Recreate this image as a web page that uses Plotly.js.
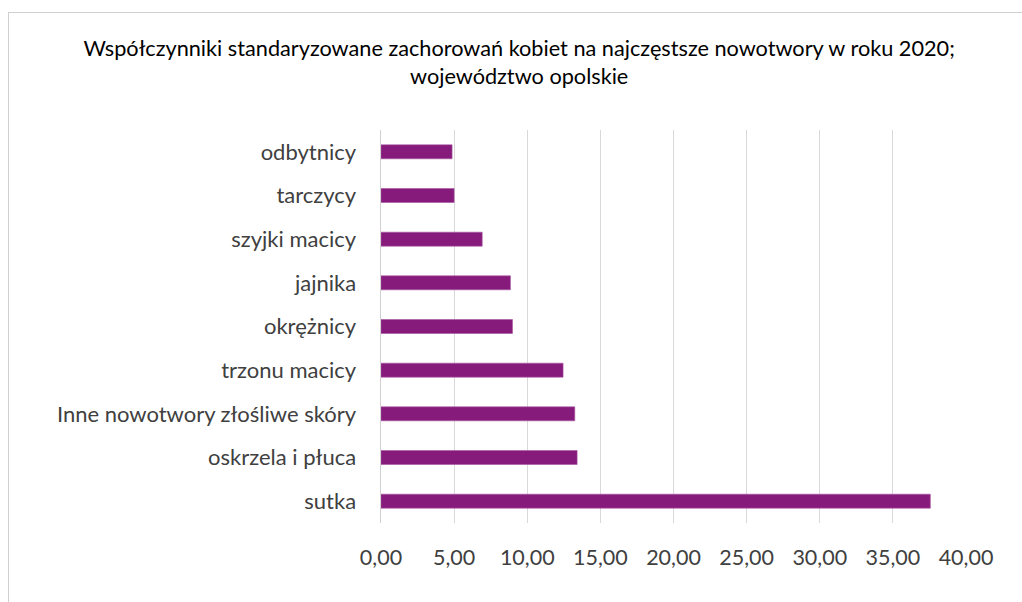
<!DOCTYPE html>
<html>
<head>
<meta charset="utf-8">
<script src="https://cdn.plot.ly/plotly-3.0.1.min.js"></script>
<style>
html,body{margin:0;padding:0;background:#fff;}
#wrap{position:relative;width:1022px;height:602px;overflow:hidden;}
#chart{width:1022px;height:602px;}
#frame{position:absolute;left:8px;top:12px;width:1100px;height:700px;border-left:1px solid #d0d0d0;border-top:1px solid #d0d0d0;pointer-events:none;}
</style>
</head>
<body>
<div id="wrap"><div id="chart"></div><div id="frame"></div></div>
<script>
// Categories (bottom to top as drawn by Plotly)
const categories = ["sutka", "oskrzela i płuca", "Inne nowotwory złośliwe skóry", "trzonu macicy", "okrężnicy", "jajnika", "szyjki macicy", "tarczycy", "odbytnicy"];
const values = [37.56, 13.41, 13.25, 12.45, 8.99, 8.85, 6.92, 5.00, 4.86];
const xTicks = [0, 5, 10, 15, 20, 25, 30, 35, 40];
const titleText = "Współczynniki standaryzowane zachorowań kobiet na najczęstsze nowotwory w roku 2020;<br>województwo opolskie";

const FONT = "Lato, Open Sans, sans-serif";

const trace = {
  type: "bar",
  orientation: "h",
  y: categories,
  x: values,
  marker: {color: "#871B7C", line: {color: "#A855A0", width: 0.6}},
  hoverinfo: "x+y"
};

const layout = {
  width: 1022,
  height: 602,
  margin: {l: 381, r: 56, t: 130, b: 79, pad: 0},
  paper_bgcolor: "#ffffff",
  plot_bgcolor: "#ffffff",
  separators: ", ",
  bargap: 0.68,
  showlegend: false,
  font: {family: FONT, color: "#404040", size: 21},
  title: {
    text: titleText,
    font: {family: FONT, size: 21.7, color: "#000000"},
    x: 0.508, xanchor: "center", xref: "container",
    y: 0.907, yanchor: "top", yref: "container"
  },
  xaxis: {
    range: [0, 40],
    tickvals: xTicks,
    tickformat: ".2f",
    showgrid: true,
    gridcolor: "#d9d9d9",
    gridwidth: 1,
    zeroline: false,
    showline: false,
    ticks: "outside",
    ticklen: 15,
    tickcolor: "rgba(0,0,0,0)",
    tickfont: {family: FONT, size: 21.5, color: "#404040"},
    fixedrange: true
  },
  yaxis: {
    type: "category",
    showgrid: false,
    zeroline: false,
    showline: true,
    linecolor: "#d0d0d0",
    linewidth: 1.5,
    ticks: "outside",
    ticklen: 19,
    tickcolor: "rgba(0,0,0,0)",
    tickfont: {family: FONT, size: 22, color: "#404040"},
    fixedrange: true
  }
};

Plotly.newPlot("chart", [trace], layout, {displayModeBar: false, staticPlot: true});
</script>
</body>
</html>
